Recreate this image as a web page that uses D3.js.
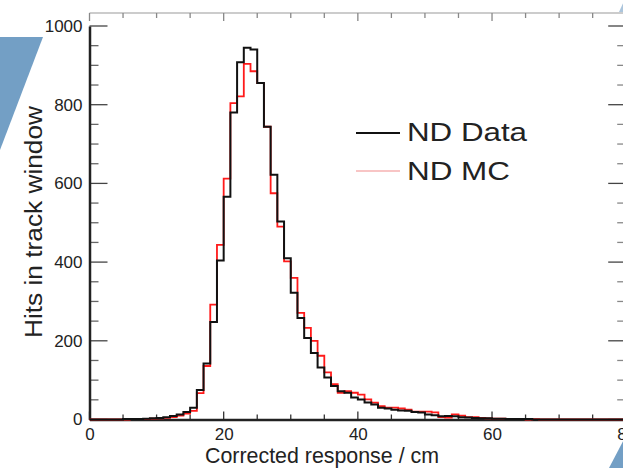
<!DOCTYPE html>
<html>
<head>
<meta charset="utf-8">
<script src="https://cdn.jsdelivr.net/npm/d3@7"></script>
<style>
  html, body { margin: 0; padding: 0; background: #fff; }
  svg { display: block; }
  text { font-family: "Liberation Sans", Arial, Helvetica, sans-serif; fill: #222; }
</style>
</head>
<body>
<svg id="chart" width="623" height="468"></svg>
<script>
// Histogram bins: 1 cm wide, starting at 0
const binStart = 0;
const binWidth = 1;

// Hits per bin, ND Data
const ndData = [
  0, 0, 0, 0, 0,   1, 1, 1, 2, 3,
  4, 6, 9, 13, 19,   30, 75, 142, 248, 404,
  566, 780, 908, 945, 940,   855, 744, 622, 503, 410,
  322, 258, 207, 169, 132,   107, 85, 72, 68, 56,
  51, 43, 38, 30, 28,   25, 23, 22, 19, 18,
  13, 11, 8, 9, 8,   6, 5, 4, 3, 3,
  2, 2, 1, 1, 1,   1, 0, 0, 0, 0,
  0, 0, 0, 0, 0,   0, 0, 0, 0, 0
];

// Hits per bin, ND MC
const ndMC = [
  0, 0, 0, 0, 0,   0, 1, 1, 1, 2,
  3, 4, 6, 10, 15,   22, 67, 136, 292, 444,
  612, 804, 821, 904, 885,   855, 744, 575, 490, 402,
  360, 271, 233, 200, 162,   120, 90, 68, 72, 68,
  63, 51, 43, 34, 30,   30, 28, 25, 20, 20,
  20, 18, 6, 5, 13,   10, 6, 6, 4, 3,
  2, 2, 1, 1, 1,   0, 1, 0, 0, 0,
  0, 0, 0, 0, 0,   0, 0, 0, 0, 0
];

const xTicks = [0, 20, 40, 60, 80];
const yTicks = [0, 200, 400, 600, 800, 1000];
const seriesNames = ["ND Data", "ND MC"];
const xTitle = "Corrected response / cm";
const yTitle = "Hits in track window";

const svg = d3.select("#chart");

// Decorative slide shapes behind the plot
const deco = "#739fc5";
svg.append("path").attr("d", "M0,37 L43,37 L0,150 Z").attr("fill", deco);
svg.append("path").attr("d", "M609,468 L630,428 L630,468 Z").attr("fill", deco);
svg.append("path").attr("d", "M619,12 L624,1 L624,12 Z").attr("fill", deco).attr("opacity", 0.6);

const x = d3.scaleLinear().domain([0, 80]).range([89.5, 626.2]);
const y = d3.scaleLinear().domain([0, 1000]).range([419.5, 26]);
const yTop = y(1033);

// Frame: thin top/right, heavy left/bottom
svg.append("line").attr("x1", x(0)).attr("x2", x(80)).attr("y1", yTop).attr("y2", yTop)
  .attr("stroke", "#999").attr("stroke-width", 1.2);
svg.append("line").attr("x1", x(80)).attr("x2", x(80)).attr("y1", yTop).attr("y2", y(0))
  .attr("stroke", "#999").attr("stroke-width", 1.2);

// Minor / major ticks
const xMinor = d3.range(0, 81, 5);
const yMinor = d3.range(0, 1001, 50);
const tickG = svg.append("g").attr("stroke", "#333");
xMinor.forEach(v => {
  const major = v % 20 === 0;
  const len = major ? 8 : 5;
  tickG.append("line").attr("x1", x(v)).attr("x2", x(v))
    .attr("y1", y(0)).attr("y2", y(0) - len).attr("stroke-width", 1.3);
  tickG.append("line").attr("x1", x(v)).attr("x2", x(v))
    .attr("y1", yTop).attr("y2", yTop + (major ? 8 : 5)).attr("stroke-width", 1.3).attr("stroke", "#888");
});
yMinor.forEach(v => {
  const major = v % 200 === 0;
  const len = major ? 18 : 9;
  tickG.append("line").attr("x1", x(0)).attr("x2", x(0) + len)
    .attr("y1", y(v)).attr("y2", y(v)).attr("stroke-width", 1.3).attr("stroke", major ? "#444" : "#666");
  tickG.append("line").attr("x1", x(80)).attr("x2", x(80) - len)
    .attr("y1", y(v)).attr("y2", y(v)).attr("stroke-width", 1.3).attr("stroke", major ? "#444" : "#888");
});

// Axes via d3 for labels
const xAxis = d3.axisBottom(x).tickValues(xTicks).tickSize(0).tickPadding(8).tickFormat(d3.format("d"));
const yAxis = d3.axisLeft(y).tickValues(yTicks).tickSize(0).tickPadding(7).tickFormat(d3.format("d"));

const gx = svg.append("g").attr("transform", `translate(0,${y(0)})`).call(xAxis);
const gy = svg.append("g").attr("transform", `translate(${x(0)},0)`).call(yAxis);
[gx, gy].forEach(g => {
  g.select(".domain").attr("stroke", "#222").attr("stroke-width", 2.5);
  g.selectAll("text").style("font-size", "17px").attr("fill", "#333")
    .style("font-family", '"Liberation Sans", Arial, sans-serif');
});
gx.selectAll("text").attr("dy", "0.75em");

// Axis titles
svg.append("text").attr("x", 322).attr("y", 463).attr("text-anchor", "middle")
  .style("font-size", "22px").attr("textLength", 234).attr("lengthAdjust", "spacingAndGlyphs")
  .text(xTitle);
svg.append("text").attr("transform", "translate(42,222) rotate(-90)").attr("text-anchor", "middle")
  .style("font-size", "23px").attr("textLength", 232).attr("lengthAdjust", "spacingAndGlyphs")
  .text(yTitle);

// Step outlines of the histograms
function stepPoints(values) {
  const pts = values.map((v, i) => [binStart + i * binWidth, v]);
  pts.push([binStart + values.length * binWidth, values[values.length - 1]]);
  return pts;
}
const line = d3.line().x(d => x(d[0])).y(d => y(d[1])).curve(d3.curveStepAfter);

svg.append("path").datum(stepPoints(ndMC)).attr("d", line)
  .attr("fill", "none").attr("stroke", "#ff1a1a").attr("stroke-width", 1.8);
svg.append("path").datum(stepPoints(ndData)).attr("d", line)
  .attr("fill", "none").attr("stroke", "#111").attr("stroke-width", 2);

// Legend
const legend = svg.append("g");
legend.append("line").attr("x1", 356).attr("x2", 400).attr("y1", 133).attr("y2", 133)
  .attr("stroke", "#111").attr("stroke-width", 2);
legend.append("line").attr("x1", 356).attr("x2", 400).attr("y1", 171).attr("y2", 171)
  .attr("stroke", "#f28b8b").attr("stroke-width", 1.2);
legend.append("text").attr("x", 407).attr("y", 141).style("font-size", "25px")
  .attr("textLength", 120).attr("lengthAdjust", "spacingAndGlyphs").text(seriesNames[0]);
legend.append("text").attr("x", 407).attr("y", 180).style("font-size", "25px")
  .attr("textLength", 103).attr("lengthAdjust", "spacingAndGlyphs").text(seriesNames[1]);
</script>
</body>
</html>
